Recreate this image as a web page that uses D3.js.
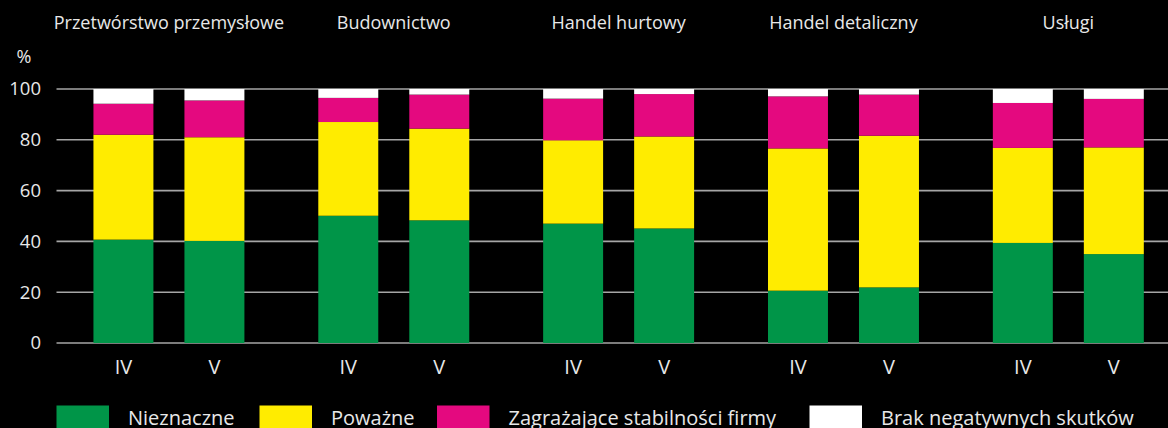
<!DOCTYPE html>
<html>
<head>
<meta charset="utf-8">
<script src="https://d3js.org/d3.v7.min.js"></script>
<style>
  body { margin: 0; background: #000; }
  svg { display: block; font-family: "Open Sans", "Noto Sans", sans-serif; }
</style>
</head>
<body>
<svg id="chart"></svg>
<script>
// data
const categories = ["Przetwórstwo przemysłowe", "Budownictwo", "Handel hurtowy", "Handel detaliczny", "Usługi"];
const periods = ["IV", "V"];
const seriesNames = ["Nieznaczne", "Poważne", "Zagrażające stabilności firmy", "Brak negatywnych skutków"];
const colors = ["#009548", "#ffec00", "#e4097f", "#ffffff"];
// one value per category x period (IV, V)
const nieznaczne = [40.7, 40.2, 50.1, 48.3, 47.0, 45.1, 20.6, 21.9, 39.4, 35.0];
const powazne    = [41.3, 40.8, 36.9, 36.1, 32.8, 36.2, 56.0, 59.7, 37.4, 42.0];
const zagrazajace = [12.2, 14.5, 9.5, 13.4, 16.4, 16.7, 20.5, 16.2, 17.7, 19.1];
const brak       = [5.8, 4.5, 3.5, 2.2, 3.8, 2.0, 2.9, 2.2, 5.5, 3.9];
const yTicks = [0, 20, 40, 60, 80, 100];

const width = 1168, height = 428;
const margin = { top: 89, left: 56.5, bottom: 85 };

const rows = [];
categories.forEach((c, i) => periods.forEach((p, j) => {
  const k = i * 2 + j;
  rows.push({ cat: c, per: p, s0: nieznaczne[k], s1: powazne[k], s2: zagrazajace[k], s3: brak[k] });
}));
const stack = d3.stack().keys(["s0", "s1", "s2", "s3"])(rows);

const svg = d3.select("#chart")
  .attr("width", width)
  .attr("height", height);

svg.append("rect").attr("width", width).attr("height", height).attr("fill", "#000");

const x0 = d3.scaleBand().domain(categories).range([margin.left, margin.left + 5 * 224.85]);
const x1 = d3.scaleBand().domain(periods).range([0, x0.bandwidth()]).paddingInner(0.341).paddingOuter(0.406);
const y = d3.scaleLinear().domain([0, 100]).range([height - margin.bottom, margin.top]);

// grid
const grid = svg.append("g");
grid.selectAll("line").data(yTicks).join("line")
  .attr("x1", margin.left).attr("x2", width)
  .attr("y1", d => y(d)).attr("y2", d => y(d))
  .attr("stroke", "#a6a6a6").attr("stroke-width", 1.6);

grid.selectAll("text").data(yTicks).join("text")
  .attr("x", 41).attr("y", d => y(d)).attr("dy", "0.35em")
  .attr("text-anchor", "end").attr("fill", "#e8e8e8").attr("font-size", 18.5)
  .text(d => d);

svg.append("text").attr("x", 24).attr("y", 57).attr("dy", "0.35em")
  .attr("text-anchor", "middle").attr("fill", "#e8e8e8").attr("font-size", 18).text("%");

// bars
svg.append("g").selectAll("g").data(stack).join("g")
  .attr("fill", (d, i) => colors[i])
  .selectAll("rect").data(d => d).join("rect")
  .attr("x", d => x0(d.data.cat) + x1(d.data.per))
  .attr("width", x1.bandwidth())
  .attr("y", d => y(d[1]))
  .attr("height", d => y(d[0]) - y(d[1]));

// period labels
svg.append("g").selectAll("text").data(rows).join("text")
  .attr("x", d => x0(d.cat) + x1(d.per) + x1.bandwidth() / 2)
  .attr("y", 367).attr("dy", "0.35em")
  .attr("text-anchor", "middle").attr("fill", "#e8e8e8").attr("font-size", 20)
  .text(d => d.per);

// category titles
svg.append("g").selectAll("text").data(categories).join("text")
  .attr("x", d => x0(d) + x0.bandwidth() / 2)
  .attr("y", 22.5).attr("dy", "0.35em")
  .attr("text-anchor", "middle").attr("fill", "#e8e8e8").attr("font-size", 18)
  .text(d => d);

// legend
const legendX = [56.5, 259.5, 437, 809.5];
const legend = svg.append("g").selectAll("g").data(seriesNames).join("g")
  .attr("transform", (d, i) => `translate(${legendX[i]},405.5)`);
legend.append("rect").attr("width", 52.5).attr("height", 30)
  .attr("fill", (d, i) => colors[i]);
legend.append("text").attr("x", 71.5).attr("y", 19)
  .attr("fill", "#e8e8e8").attr("font-size", 20)
  .text(d => d);
</script>
</body>
</html>
